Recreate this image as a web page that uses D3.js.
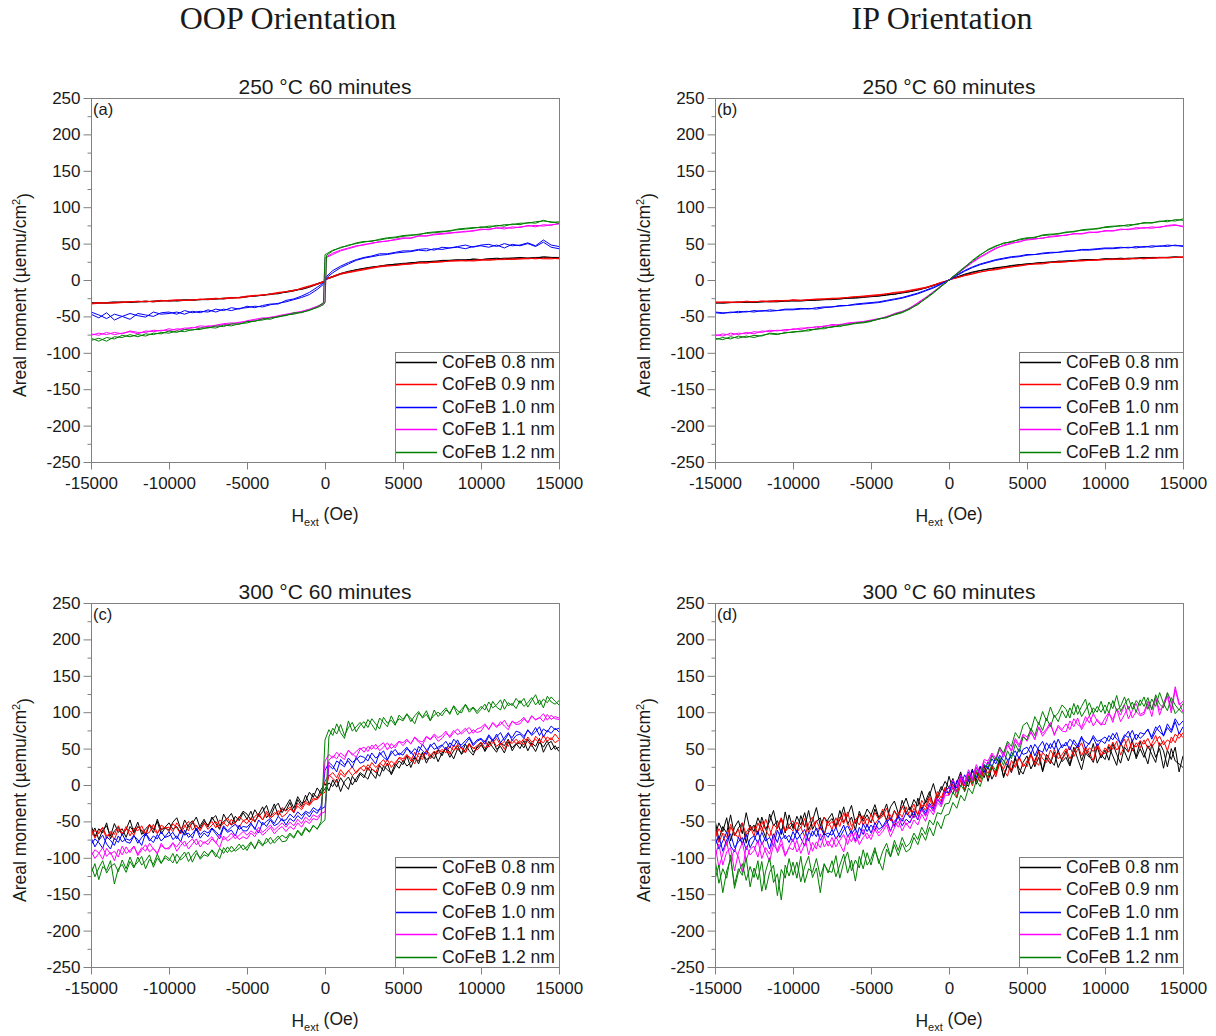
<!DOCTYPE html>
<html>
<head>
<meta charset="utf-8">
<script src="https://cdn.jsdelivr.net/npm/d3@7/dist/d3.min.js"></script>
<style>
  html, body { margin: 0; padding: 0; background: #fff; }
  svg { display: block; }
  text { font-family: "Liberation Sans", Arial, sans-serif; fill: #1a1a1a; }
  .hdr { font-family: "Liberation Serif", "Times New Roman", serif; }
</style>
</head>
<body>
<svg id="chart" width="1216" height="1036"></svg>
<script>
// ---- Field sweep grids (Oe) ----
const fieldsA = [
  -15000,-14500,-14000,-13500,-13000,-12500,-12000,-11500,-11000,-10500,
  -10000,-9500,-9000,-8500,-8000,-7500,-7000,-6500,-6000,-5500,
  -5000,-4500,-4000,-3500,-3000,-2500,-2000,-1500,-1000,-500,
  -100,0,100,
  500,1000,1500,2000,2500,3000,3500,4000,4500,5000,
  5500,6000,6500,7000,7500,8000,8500,9000,9500,10000,
  10500,11000,11500,12000,12500,13000,13500,14000,14500,15000
];
const fieldsC = [
  -15000,-14750,-14500,-14250,-14000,-13750,-13500,-13250,-13000,-12750,
  -12500,-12250,-12000,-11750,-11500,-11250,-11000,-10750,-10500,-10250,
  -10000,-9750,-9500,-9250,-9000,-8750,-8500,-8250,-8000,-7750,
  -7500,-7250,-7000,-6750,-6500,-6250,-6000,-5750,-5500,-5250,
  -5000,-4750,-4500,-4250,-4000,-3750,-3500,-3250,-3000,-2750,
  -2500,-2250,-2000,-1750,-1500,-1250,-1000,-750,-500,-250,
  0,250,500,750,1000,1250,1500,1750,2000,2250,
  2500,2750,3000,3250,3500,3750,4000,4250,4500,4750,
  5000,5250,5500,5750,6000,6250,6500,6750,7000,7250,
  7500,7750,8000,8250,8500,8750,9000,9250,9500,9750,
  10000,10250,10500,10750,11000,11250,11500,11750,12000,12250,
  12500,12750,13000,13250,13500,13750,14000,14250,14500,14750,
  15000
];

// ---- Labels, ticks, colours ----
const legendLabels = ["CoFeB 0.8 nm","CoFeB 0.9 nm","CoFeB 1.0 nm","CoFeB 1.1 nm","CoFeB 1.2 nm"];
const seriesColors = ["#000000","#ff0000","#0000ff","#ff00ff","#008000"];
const xTickValues = [-15000,-10000,-5000,0,5000,10000,15000];
const yTickValues = [-250,-200,-150,-100,-50,0,50,100,150,200,250];
const yMinorValues = [-225,-175,-125,-75,-25,25,75,125,175,225];
const columnHeaders = ["OOP Orientation","IP Orientation"];
const panelTitles = ["250 °C 60 minutes","250 °C 60 minutes","300 °C 60 minutes","300 °C 60 minutes"];
const panelTags = ["(a)","(b)","(c)","(d)"];

// ---- (a) 250 °C, out-of-plane: areal moment (µemu/cm²), descending / ascending sweeps ----
const a08Down = [-32,-31,-32,-31,-30,-31,-30,-29,-30,-29, -28,-29,-28,-27,-27,-27,-26,-25,-25,-24, -23,-22,-21,-20,-18,-17,-15,-12,-9,-5, -2,0,2, 5,9,12,14,16,18,19,20,22,22, 24,24,25,26,26,27,27,28,28,28, 29,29,30,30,30,30,31,31,31,31];
const a08Up   = [-31,-32,-31,-30,-31,-30,-30,-30,-29,-28, -29,-28,-27,-28,-27,-26,-26,-26,-24,-24, -23,-22,-21,-19,-19,-16,-14,-13,-10,-6, -3,-1,1, 4,8,11,14,16,17,19,21,21,23, 23,25,25,25,27,27,28,27,29,28, 29,30,29,30,31,30,30,32,31,30];
const a09Down = [-33,-32,-31,-32,-31,-30,-30,-29,-30,-28, -29,-28,-28,-28,-26,-27,-26,-25,-24,-25, -23,-22,-20,-20,-18,-16,-14,-12,-9,-6, -3,-1,1, 4,8,10,12,14,16,18,19,20,21, 22,23,24,24,25,26,26,27,26,27, 28,28,28,29,29,30,29,30,30,29];
const a09Up   = [-32,-31,-32,-31,-30,-30,-29,-30,-29,-29, -28,-27,-28,-27,-27,-26,-25,-26,-25,-24, -22,-21,-21,-19,-17,-16,-15,-11,-8,-5, -2,0,2, 5,9,11,13,15,17,19,20,20,22, 22,24,23,25,25,26,27,26,27,28, 27,28,29,28,29,29,30,29,29,30];
const a10Down = [-47,-52,-45,-55,-50,-46,-49,-51,-44,-47, -46,-44,-47,-43,-45,-41,-44,-40,-42,-39, -38,-36,-37,-34,-32,-30,-27,-24,-20,-13, -6,-2,3, 10,17,22,27,30,32,34,35,37,38, 39,41,40,43,42,44,45,43,46,47, 45,48,44,49,47,50,46,52,45,43];
const a10Up   = [-44,-48,-53,-47,-50,-54,-46,-48,-50,-45, -44,-47,-42,-45,-43,-44,-40,-42,-38,-40, -36,-38,-35,-33,-33,-28,-26,-22,-17,-10, -4,0,5, 13,19,24,28,31,33,36,36,38,40, 40,42,43,41,45,44,46,48,45,48, 49,46,50,47,48,51,47,55,48,46];
const a11Down = [-74,-76,-72,-75,-73,-71,-74,-70,-71,-69, -70,-67,-68,-65,-66,-63,-64,-61,-61,-58, -57,-55,-54,-51,-50,-48,-46,-44,-41,-37, -32,30,32, 37,41,44,47,48,51,52,54,55,57, 58,60,61,62,63,64,66,66,68,69, 70,71,72,71,73,74,75,74,76,77];
const a11Up   = [-76,-73,-75,-72,-74,-70,-72,-72,-69,-70, -67,-69,-66,-66,-63,-64,-62,-60,-59,-59, -56,-54,-52,-52,-49,-47,-45,-43,-40,-36, -33,-30,31, 35,40,43,46,49,50,53,53,56,58, 57,61,60,63,64,65,65,67,67,70, 69,72,70,73,72,75,73,76,75,78];
const a12Down = [-83,-80,-84,-78,-79,-75,-78,-74,-75,-72, -73,-70,-71,-68,-68,-65,-66,-62,-63,-60, -59,-56,-55,-52,-51,-48,-47,-44,-42,-37, -31,35,36, 41,44,48,50,52,54,55,57,58,60, 61,63,64,65,66,68,69,70,71,73, 72,75,74,77,76,79,78,82,79,80];
const a12Up   = [-80,-84,-79,-81,-76,-78,-75,-77,-73,-74, -70,-72,-68,-69,-66,-66,-63,-64,-60,-61, -57,-57,-53,-54,-50,-49,-45,-45,-41,-38, -34,-31,34, 40,45,47,51,53,53,56,58,59,61, 62,62,65,66,67,67,70,71,72,72, 74,74,76,76,78,78,80,81,80,78];

// ---- (b) 250 °C, in-plane ----
const b08Down = [-31,-32,-31,-31,-30,-31,-30,-30,-30,-29, -29,-29,-28,-28,-27,-27,-26,-25,-25,-24, -23,-22,-21,-19,-18,-16,-14,-11,-8,-4, -1,0,1, 4,8,11,13,15,17,18,20,21,22, 23,24,25,25,26,27,27,28,28,29, 29,29,30,30,30,31,31,31,31,31];
const b08Up   = [-32,-31,-31,-30,-31,-30,-30,-29,-29,-29, -28,-28,-28,-27,-27,-26,-26,-25,-24,-23, -22,-22,-20,-20,-17,-16,-13,-11,-7,-4, -1,0,1, 4,7,10,13,15,16,18,19,21,22, 23,24,24,26,26,26,28,28,28,29, 29,30,29,30,31,30,31,31,32,31];
const b09Down = [-30,-31,-31,-30,-30,-30,-29,-30,-29,-28, -28,-28,-27,-27,-26,-26,-25,-24,-23,-23, -22,-21,-19,-18,-17,-15,-13,-11,-7,-4, -1,0,1, 3,6,9,11,13,15,17,18,20,21, 22,23,24,25,25,26,26,27,28,28, 28,29,29,29,30,30,30,31,31,31];
const b09Up   = [-31,-30,-30,-31,-29,-30,-29,-29,-28,-29, -27,-28,-27,-26,-26,-25,-25,-24,-23,-22, -21,-20,-19,-17,-16,-14,-12,-10,-7,-3, -1,0,1, 3,6,8,11,13,14,16,18,19,21, 22,22,24,24,25,26,27,27,27,28, 29,28,29,30,29,30,31,30,31,32];
const b10Down = [-45,-46,-44,-45,-43,-44,-42,-43,-42,-41, -41,-40,-39,-40,-38,-37,-36,-35,-34,-33, -32,-31,-29,-27,-25,-22,-19,-15,-11,-6, -1,0,1, 6,12,17,21,24,27,29,31,32,34, 35,36,37,38,39,40,41,41,42,43, 43,44,45,44,46,45,47,46,48,46];
const b10Up   = [-44,-45,-45,-43,-44,-42,-43,-41,-42,-40, -40,-39,-40,-38,-37,-37,-35,-35,-33,-32, -31,-30,-28,-26,-24,-21,-18,-14,-10,-5, -1,0,1, 7,13,18,22,25,28,30,32,33,35, 35,37,38,38,40,40,42,42,43,44, 44,45,44,46,45,47,46,48,47,47];
const b11Down = [-75,-77,-73,-75,-72,-74,-70,-71,-69,-70, -67,-68,-65,-66,-63,-63,-61,-60,-59,-58, -56,-54,-50,-47,-44,-38,-32,-25,-17,-9, -2,0,2, 9,17,25,32,38,44,47,50,53,55, 56,58,59,60,62,63,64,65,66,67, 68,69,70,70,72,71,73,74,75,74];
const b11Up   = [-77,-74,-76,-73,-74,-71,-72,-69,-70,-68, -68,-66,-66,-64,-64,-61,-62,-59,-58,-57, -55,-53,-51,-46,-43,-39,-31,-24,-16,-8, -2,0,2, 8,16,24,31,37,43,48,51,52,56, 57,57,60,61,61,64,63,66,65,68, 67,70,69,72,71,73,72,75,76,73];
const b12Down = [-80,-82,-78,-80,-77,-79,-76,-74,-75,-72, -72,-70,-70,-67,-67,-64,-64,-61,-60,-58, -56,-54,-51,-48,-45,-40,-33,-26,-18,-9, -2,0,2, 9,18,26,34,42,47,50,53,55,57, 59,61,62,64,65,67,68,69,71,72, 73,75,74,77,78,79,80,82,81,84];
const b12Up   = [-82,-79,-81,-77,-79,-76,-77,-73,-74,-73, -71,-71,-68,-68,-65,-65,-62,-62,-59,-59, -57,-53,-52,-47,-44,-39,-34,-25,-17,-8, -2,0,2, 8,17,27,35,41,46,51,52,56,58, 58,62,63,63,66,66,69,70,70,73, 74,74,76,76,79,78,81,80,83,82];

// ---- (c) 300 °C, out-of-plane ----
const c08Down = [
  -55,-71,-60,-66,-52,-74,-63,-58,-69,-61,
  -48,-66,-57,-63,-70,-54,-61,-50,-67,-59,
  -62,-51,-45,-60,-68,-55,-49,-63,-56,-47,
  -58,-44,-53,-61,-40,-50,-55,-43,-49,-38,
  -47,-36,-51,-40,-30,-45,-38,-26,-42,-33,
  -35,-24,-38,-20,-29,-14,-26,-11,-18,-6,
  2,-8,7,-3,10,1,-6,12,4,15,
  10,24,16,9,27,19,30,14,25,33,
  28,40,24,37,33,45,30,41,36,48,
  40,52,45,36,50,43,56,47,41,53,
  58,46,55,62,49,53,44,59,51,57,
  50,61,47,58,53,64,45,56,60,49,
  52];
const c08Up = [
  -68,-59,-75,-62,-56,-70,-53,-65,-60,-72,
  -57,-64,-51,-68,-60,-55,-66,-47,-62,-58,
  -52,-61,-57,-66,-48,-58,-53,-44,-59,-50,
  -55,-47,-42,-56,-50,-46,-39,-52,-45,-36,
  -40,-48,-34,-43,-37,-28,-44,-31,-25,-38,
  -29,-20,-32,-16,-25,-22,-10,-17,-4,-12,
  -5,3,-2,8,-9,5,11,0,9,17,
  13,8,22,18,12,26,21,16,29,23,
  34,26,31,39,29,44,35,38,46,32,
  44,50,38,47,54,42,49,57,45,51,
  55,48,60,52,45,58,54,63,47,56,
  58,51,63,55,46,59,52,61,48,54,
  46];
const c09Down = [
  -60,-73,-64,-58,-70,-66,-75,-61,-68,-57,
  -70,-59,-63,-56,-68,-65,-54,-66,-60,-58,
  -64,-53,-59,-67,-57,-50,-62,-55,-63,-52,
  -61,-55,-50,-59,-52,-57,-47,-54,-58,-49,
  -53,-45,-50,-42,-48,-39,-46,-41,-35,-44,
  -40,-33,-37,-29,-34,-25,-28,-21,-19,-12,
  5,14,9,4,16,11,20,13,18,24,
  19,28,22,17,30,26,35,24,31,37,
  33,41,37,29,44,39,47,36,42,49,
  45,51,42,55,48,52,44,57,50,54,
  59,51,56,62,53,58,49,61,57,63,
  56,64,60,53,67,61,58,66,62,70,
  63];
const c09Up = [
  -71,-62,-67,-59,-74,-64,-68,-56,-66,-61,
  -63,-69,-57,-62,-66,-54,-61,-67,-55,-59,
  -58,-64,-52,-60,-55,-63,-50,-57,-61,-53,
  -56,-50,-59,-48,-53,-45,-55,-51,-43,-49,
  -47,-52,-43,-39,-48,-36,-44,-38,-41,-31,
  -36,-30,-38,-25,-31,-22,-27,-18,-20,-13,
  -10,12,17,10,21,14,19,25,16,23,
  27,20,31,24,29,35,26,33,28,38,
  36,42,33,45,39,35,48,41,46,43,
  49,44,53,47,56,50,45,55,51,48,
  54,61,52,58,64,55,60,53,62,57,
  61,55,66,59,63,57,68,60,65,58,
  62];
const c10Down = [
  -72,-85,-76,-69,-81,-88,-73,-79,-67,-78,
  -80,-70,-75,-83,-66,-74,-79,-68,-77,-71,
  -64,-75,-70,-78,-62,-72,-67,-60,-73,-66,
  -71,-60,-67,-74,-58,-65,-62,-70,-55,-63,
  -63,-54,-59,-66,-51,-57,-48,-56,-53,-46,
  -55,-46,-50,-42,-47,-38,-44,-35,-39,-29,
  20,31,26,18,35,28,33,24,38,30,
  32,42,36,29,45,38,34,47,40,44,
  41,50,46,38,53,47,42,56,49,52,
  55,48,58,53,62,51,57,64,54,60,
  63,56,67,60,70,58,65,72,61,68,
  70,64,76,68,73,80,66,75,71,78,
  73];
const c10Up = [
  -82,-74,-79,-87,-71,-76,-83,-70,-78,-74,
  -76,-69,-80,-72,-66,-77,-70,-74,-64,-72,
  -70,-65,-74,-62,-69,-66,-73,-59,-68,-63,
  -66,-59,-64,-70,-56,-63,-58,-54,-61,-57,
  -58,-52,-61,-48,-55,-50,-46,-53,-43,-49,
  -48,-40,-45,-37,-42,-36,-39,-31,-35,-33,
  -30,27,22,33,29,25,37,31,35,40,
  38,33,44,37,41,47,35,43,49,41,
  46,52,43,50,45,56,48,53,58,49,
  54,60,51,63,57,55,61,66,56,62,
  64,59,69,62,66,72,61,70,65,74,
  72,67,75,70,79,68,77,73,81,76,
  78];
const c11Down = [
  -90,-101,-94,-86,-98,-92,-104,-88,-96,-85,
  -93,-84,-97,-89,-82,-92,-87,-95,-80,-88,
  -86,-79,-91,-83,-77,-88,-81,-74,-85,-78,
  -82,-74,-79,-86,-70,-77,-73,-68,-75,-71,
  -74,-66,-71,-62,-69,-64,-58,-67,-61,-57,
  -64,-57,-61,-52,-58,-49,-53,-46,-48,-40,
  33,42,37,45,39,35,48,41,46,51,
  45,53,49,56,47,52,58,50,55,60,
  54,61,57,65,59,55,66,62,68,60,
  64,71,67,75,69,73,78,70,76,72,
  74,82,77,85,79,87,81,76,88,83,
  84,91,86,95,89,93,87,97,90,94,
  92];
const c11Up = [
  -98,-89,-93,-102,-87,-95,-91,-99,-84,-94,
  -90,-84,-95,-86,-91,-80,-88,-93,-83,-87,
  -88,-80,-85,-77,-84,-79,-74,-82,-76,-80,
  -76,-71,-80,-68,-75,-72,-66,-74,-69,-64,
  -69,-63,-67,-58,-65,-60,-55,-62,-57,-52,
  -58,-51,-56,-47,-53,-44,-49,-41,-44,-39,
  -37,34,40,36,44,39,47,43,38,49,
  52,46,55,49,54,58,48,57,51,60,
  58,63,56,66,61,59,67,63,70,65,
  68,74,65,72,77,70,75,79,71,77,
  79,84,76,86,81,83,89,80,87,85,
  88,93,85,95,90,92,98,89,96,91,
  90];
const c12Down = [
  -110,-126,-114,-104,-121,-112,-108,-119,-103,-115,
  -99,-112,-106,-98,-115,-102,-109,-95,-107,-100,
  -104,-94,-108,-99,-92,-105,-97,-90,-102,-96,
  -98,-89,-95,-101,-86,-93,-84,-91,-87,-82,
  -90,-80,-86,-78,-84,-73,-81,-76,-70,-78,
  -77,-68,-73,-63,-70,-60,-65,-55,-61,-50,
  62,76,68,84,72,64,88,74,80,86,
  78,90,83,75,92,86,80,95,84,91,
  88,97,92,84,99,93,102,89,96,100,
  95,103,99,108,96,104,110,100,106,98,
  104,111,100,115,107,103,118,109,112,105,
  116,108,113,120,110,117,106,122,114,111,
  116];
const c12Up = [
  -122,-108,-130,-112,-117,-104,-136,-115,-109,-120,
  -105,-114,-99,-110,-104,-96,-113,-100,-108,-97,
  -101,-107,-95,-103,-98,-92,-106,-94,-100,-91,
  -96,-90,-99,-87,-94,-85,-92,-88,-81,-89,
  -85,-78,-88,-75,-82,-79,-72,-80,-74,-69,
  -73,-66,-72,-62,-68,-58,-64,-56,-60,-53,
  -48,66,78,70,83,68,79,86,73,82,
  87,79,91,84,77,93,85,89,82,96,
  90,98,87,95,101,92,97,88,103,94,
  100,106,97,109,102,99,111,103,107,101,
  108,103,114,106,110,117,104,113,109,119,
  112,119,107,116,124,110,118,113,121,115,
  110];

// ---- (d) 300 °C, in-plane ----
const d08Down = [
  -48,-75,-57,-66,-41,-70,-59,-52,-80,-55,
  -64,-45,-58,-72,-40,-56,-49,-68,-37,-60,
  -53,-66,-42,-58,-35,-61,-50,-45,-69,-47,
  -39,-57,-48,-30,-54,-44,-62,-36,-50,-41,
  -52,-33,-47,-40,-26,-49,-35,-44,-21,-38,
  -30,-45,-18,-34,-22,-9,-28,-15,-2,-12,
  12,-6,3,18,-9,7,22,1,14,27,
  5,24,16,35,10,28,20,39,14,31,
  40,22,33,48,18,37,29,45,24,36,
  47,28,52,36,21,44,38,57,30,42,
  35,53,40,27,58,46,33,51,39,60,
  44,29,56,38,50,23,48,35,52,18,
  40];
const d08Up = [
  -70,-52,-64,-45,-77,-58,-49,-67,-38,-62,
  -55,-68,-44,-61,-50,-35,-59,-47,-66,-41,
  -60,-43,-55,-38,-62,-49,-31,-56,-44,-52,
  -46,-58,-35,-51,-42,-28,-53,-40,-47,-33,
  -41,-27,-45,-36,-48,-30,-22,-39,-31,-18,
  -35,-20,-29,-8,-25,-14,2,-19,-7,5,
  -4,9,-10,15,3,-2,20,6,25,10,
  26,8,19,33,12,27,17,36,22,15,
  30,44,25,38,20,42,34,27,48,32,
  38,26,45,55,33,49,40,31,52,37,
  48,34,57,42,30,52,45,62,36,50,
  38,54,42,31,58,47,25,50,33,29,
  24];
const d09Down = [
  -58,-79,-66,-72,-54,-70,-61,-82,-65,-57,
  -70,-52,-64,-47,-61,-74,-56,-45,-63,-55,
  -49,-65,-58,-71,-53,-44,-62,-57,-68,-50,
  -61,-45,-57,-38,-52,-63,-47,-55,-42,-58,
  -40,-54,-46,-33,-50,-41,-56,-37,-44,-30,
  -45,-32,-40,-27,-35,-19,-31,-14,-22,-5,
  -12,2,-17,8,-6,12,-1,17,4,20,
  10,26,15,31,21,12,34,24,37,28,
  25,41,33,27,45,38,30,49,36,42,
  50,36,47,55,40,52,44,33,57,46,
  43,56,49,60,41,54,64,47,58,51,
  62,50,57,68,53,61,47,66,58,72,
  65];
const d09Up = [
  -74,-60,-69,-83,-58,-66,-73,-52,-68,-63,
  -57,-66,-50,-62,-71,-54,-60,-46,-64,-58,
  -63,-51,-59,-46,-66,-55,-49,-61,-44,-56,
  -50,-59,-44,-53,-37,-57,-48,-41,-55,-46,
  -52,-38,-47,-43,-32,-49,-36,-45,-29,-40,
  -37,-26,-42,-21,-30,-16,-27,-9,-18,-3,
  -14,-3,-9,7,-1,14,3,18,9,23,
  16,27,11,30,22,34,19,28,39,25,
  33,42,28,46,36,31,48,39,44,35,
  44,53,39,49,58,42,51,46,56,40,
  51,45,59,48,55,63,46,57,52,61,
  56,64,52,60,67,55,62,58,70,64,
  72];
const d10Down = [
  -70,-88,-77,-65,-84,-92,-72,-80,-68,-86,
  -76,-63,-82,-71,-88,-67,-79,-60,-74,-69,
  -78,-62,-73,-84,-65,-70,-59,-76,-66,-72,
  -61,-74,-66,-55,-71,-63,-77,-58,-68,-54,
  -66,-52,-61,-57,-48,-63,-50,-44,-56,-47,
  -52,-40,-47,-33,-42,-28,-36,-21,-24,-10,
  -10,5,-4,12,2,18,7,24,14,28,
  22,36,29,41,33,27,45,38,50,42,
  44,55,40,52,60,46,57,49,63,51,
  59,48,62,54,67,50,58,65,53,61,
  57,68,62,72,55,66,74,60,70,64,
  69,77,63,74,82,67,79,72,87,70,
  80];
const d10Up = [
  -83,-70,-91,-75,-67,-86,-78,-72,-89,-74,
  -70,-80,-65,-77,-72,-84,-62,-75,-69,-79,
  -64,-75,-68,-61,-77,-63,-71,-57,-69,-66,
  -69,-58,-72,-62,-56,-67,-60,-73,-53,-64,
  -55,-62,-49,-58,-52,-45,-57,-42,-50,-38,
  -45,-36,-48,-30,-39,-25,-33,-18,-27,-8,
  -3,-12,6,-2,14,5,20,10,26,17,
  32,25,38,30,44,34,40,47,36,49,
  52,43,56,48,45,58,50,61,47,55,
  54,63,57,51,65,59,56,68,60,62,
  66,60,71,63,58,69,65,75,62,72,
  70,76,66,80,73,68,84,75,91,82,
  88];
const d11Down = [
  -82,-113,-95,-78,-104,-88,-99,-120,-84,-96,
  -90,-76,-101,-86,-95,-72,-93,-81,-98,-85,
  -74,-92,-83,-70,-96,-79,-88,-67,-85,-77,
  -86,-71,-81,-92,-69,-78,-64,-82,-72,-66,
  -75,-61,-70,-64,-55,-71,-59,-50,-63,-52,
  -60,-48,-55,-40,-50,-33,-41,-24,-30,-14,
  -14,-2,-9,10,0,16,6,24,14,32,
  28,42,34,49,38,55,46,61,52,68,
  60,72,64,79,67,75,83,70,80,74,
  73,88,80,92,76,86,95,81,90,84,
  83,98,90,104,87,97,108,92,101,95,
  97,112,94,118,103,108,122,99,131,110,
  115];
const d11Up = [
  -98,-81,-110,-92,-86,-118,-93,-79,-103,-88,
  -84,-99,-78,-92,-105,-82,-90,-74,-96,-86,
  -89,-76,-94,-81,-73,-91,-78,-86,-70,-84,
  -72,-85,-76,-68,-82,-65,-79,-70,-61,-74,
  -68,-56,-66,-59,-52,-64,-49,-58,-45,-55,
  -50,-41,-47,-34,-43,-27,-36,-18,-26,-9,
  -4,7,-2,14,4,21,10,28,17,35,
  33,44,37,52,42,58,47,64,55,70,
  66,74,62,80,71,77,86,68,82,76,
  84,76,91,83,79,94,85,98,88,82,
  92,100,86,105,96,110,91,102,112,97,
  100,115,105,121,96,112,126,104,135,113,
  100];
const d12Down = [
  -102,-135,-115,-128,-96,-142,-120,-108,-131,-112,
  -127,-104,-146,-118,-100,-134,-122,-158,-110,-125,
  -106,-128,-98,-134,-115,-120,-101,-126,-109,-118,
  -120,-97,-128,-106,-92,-118,-103,-114,-89,-110,
  -102,-86,-108,-91,-80,-98,-76,-90,-72,-85,
  -80,-66,-75,-58,-68,-48,-55,-38,-40,-26,
  -25,-10,-18,0,-8,12,2,20,10,28,
  24,40,33,52,44,60,53,72,64,82,
  86,74,94,83,101,88,107,93,99,110,
  104,92,112,97,108,118,95,106,100,115,
  98,114,105,123,101,111,119,104,116,109,
  121,104,118,108,127,112,102,120,110,103,
  112];
const d12Up = [
  -130,-110,-148,-118,-102,-137,-115,-124,-100,-140,
  -114,-130,-105,-144,-120,-110,-152,-116,-128,-101,
  -124,-106,-133,-112,-98,-127,-114,-148,-108,-121,
  -104,-126,-110,-95,-121,-103,-132,-98,-115,-93,
  -110,-90,-104,-117,-88,-99,-82,-97,-80,-92,
  -88,-72,-82,-66,-76,-58,-70,-50,-60,-42,
  -40,-24,-32,-14,-22,-4,-12,6,-2,16,
  12,28,20,38,27,47,36,56,45,66,
  62,78,68,86,75,92,80,96,87,102,
  92,106,96,110,94,103,113,98,108,100,
  110,99,116,102,108,121,104,114,100,117,
  108,120,103,124,111,106,127,115,98,104,
  98];

// ---- Panel layout ----
const PW = 468, PH = 364;
const panels = [
  { left: 91,  top: 98,  fields: fieldsA, title: panelTitles[0], tag: panelTags[0],
    series: [[a08Down,a08Up],[a09Down,a09Up],[a10Down,a10Up],[a11Down,a11Up],[a12Down,a12Up]] },
  { left: 715, top: 98,  fields: fieldsA, title: panelTitles[1], tag: panelTags[1],
    series: [[b08Down,b08Up],[b09Down,b09Up],[b10Down,b10Up],[b11Down,b11Up],[b12Down,b12Up]] },
  { left: 91,  top: 603, fields: fieldsC, title: panelTitles[2], tag: panelTags[2],
    series: [[c08Down,c08Up],[c09Down,c09Up],[c10Down,c10Up],[c11Down,c11Up],[c12Down,c12Up]] },
  { left: 715, top: 603, fields: fieldsC, title: panelTitles[3], tag: panelTags[3],
    series: [[d08Down,d08Up],[d09Down,d09Up],[d10Down,d10Up],[d11Down,d11Up],[d12Down,d12Up]] }
];

const svg = d3.select("#chart");
const axisColor = "#808080";

// Column headers
svg.append("text").attr("class","hdr").attr("x",288).attr("y",29)
  .attr("text-anchor","middle").style("font-size","32px").text(columnHeaders[0]);
svg.append("text").attr("class","hdr").attr("x",942).attr("y",29)
  .attr("text-anchor","middle").style("font-size","32px").text(columnHeaders[1]);

panels.forEach((p, pi) => {
  const x = d3.scaleLinear().domain([-15000, 15000]).range([p.left, p.left + PW]);
  const y = d3.scaleLinear().domain([-250, 250]).range([p.top + PH, p.top]);
  const g = svg.append("g");
  const cx = p.left + PW / 2;

  // title
  g.append("text").attr("x", cx).attr("y", p.top - 4).attr("text-anchor","middle")
    .style("font-size","21px").text(p.title);

  // clip region for curves
  const clipId = "clip" + pi;
  svg.append("clipPath").attr("id", clipId).append("rect")
    .attr("x", p.left).attr("y", p.top).attr("width", PW).attr("height", PH);

  const plot = g.append("g").attr("clip-path", `url(#${clipId})`);
  const line = d3.line().x(d => x(d[0])).y(d => y(d[1]));
  p.series.forEach((branches, si) => {
    branches.forEach(vals => {
      plot.append("path")
        .datum(d3.zip(p.fields, vals))
        .attr("d", line)
        .attr("fill","none")
        .attr("stroke", seriesColors[si])
        .attr("stroke-width", 1)
        .attr("stroke-linejoin","round");
    });
  });

  // frame
  g.append("rect").attr("x", p.left + 0.5).attr("y", p.top + 0.5).attr("width", PW).attr("height", PH)
    .attr("fill","none").attr("stroke", axisColor).attr("stroke-width", 1);

  // x axis
  const xa = g.append("g").attr("transform", `translate(0,${p.top + PH + 0.5})`)
    .call(d3.axisBottom(x).tickValues(xTickValues).tickSize(7).tickPadding(7)
      .tickFormat(d => String(d)));
  // y axis (major + minor)
  const ya = g.append("g").attr("transform", `translate(${p.left + 0.5},0)`)
    .call(d3.axisLeft(y).tickValues(yTickValues).tickSize(8).tickPadding(3)
      .tickFormat(d => String(d)));
  const ym = g.append("g").attr("transform", `translate(${p.left + 0.5},0)`)
    .call(d3.axisLeft(y).tickValues(yMinorValues).tickSize(4).tickFormat(""));
  [xa, ya, ym].forEach(a => {
    a.select(".domain").remove();
    a.selectAll(".tick line").attr("stroke", axisColor);
    a.selectAll(".tick text").attr("fill","#1a1a1a")
      .style("font-family",'"Liberation Sans", Arial, sans-serif').style("font-size","17px");
  });

  // panel tag
  g.append("text").attr("x", p.left + 2).attr("y", p.top + 17).style("font-size","16.5px").text(p.tag);

  // legend
  const lx = p.left + PW - 164, ly = p.top + PH - 110;
  g.append("rect").attr("x", lx + 0.5).attr("y", ly + 0.5).attr("width", 164).attr("height", 110)
    .attr("fill","#fff").attr("stroke", axisColor).attr("stroke-width", 1);
  const rowY = [10, 32, 55, 77, 100];
  legendLabels.forEach((lab, i) => {
    g.append("line").attr("x1", lx + 1).attr("x2", lx + 42)
      .attr("y1", ly + rowY[i] + 0.5).attr("y2", ly + rowY[i] + 0.5)
      .attr("stroke", seriesColors[i]).attr("stroke-width", 1.3);
    g.append("text").attr("x", lx + 47).attr("y", ly + rowY[i]).attr("dy","0.36em")
      .style("font-size","17.5px").text(lab);
  });

  // axis labels
  const yl = g.append("text")
    .attr("transform", `translate(${p.left - 71},${p.top + PH / 2 + 15}) rotate(-90)`)
    .attr("text-anchor","middle").attr("dy","0.35em").style("font-size","17.5px");
  yl.append("tspan").text("Areal moment (µemu/cm");
  yl.append("tspan").attr("dy","-0.55em").style("font-size","11px").text("2");
  yl.append("tspan").attr("dy","0.55em").text(")");

  const xl = g.append("text").attr("x", cx).attr("y", p.top + PH + 60)
    .attr("text-anchor","middle").style("font-size","17.5px");
  xl.append("tspan").text("H");
  xl.append("tspan").attr("dy","0.35em").style("font-size","11px").text("ext");
  xl.append("tspan").attr("dy","-0.35em").text(" (Oe)");
});
</script>
</body>
</html>
